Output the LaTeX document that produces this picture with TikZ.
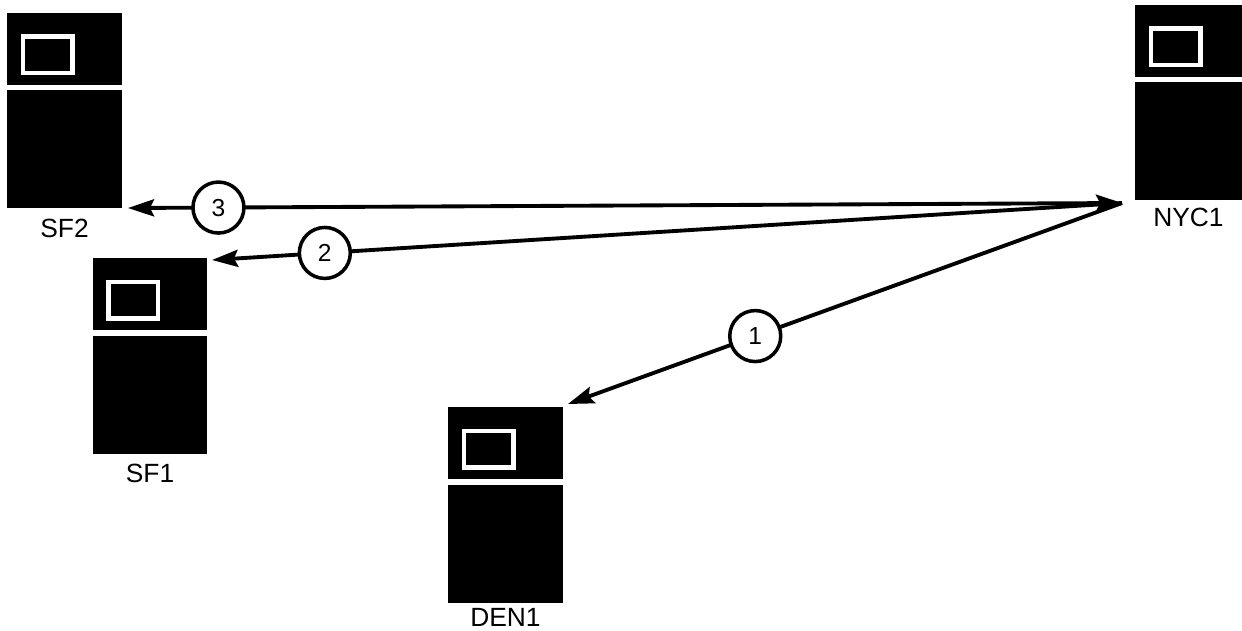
\documentclass[tikz,border=0pt]{standalone}
\usepackage{fontspec}
\setmainfont{Liberation Sans}
\usetikzlibrary{positioning,arrows.meta}

\begin{document}
\begin{tikzpicture}[x=0.02cm,y=-0.02cm,
    toppart/.style={fill=black,inner sep=0,minimum width=2.3cm,minimum height=1.44cm},
    botpart/.style={fill=black,inner sep=0,minimum width=2.3cm,minimum height=2.36cm},
    screen/.style={draw=white,line width=0.09cm,inner sep=0,minimum width=0.99cm,minimum height=0.73cm},
    sitename/.style={inner sep=0,font=\fontsize{15}{17}\selectfont},
    tip/.tip={Stealth[length=0.52cm,width=0.34cm,inset=0.08cm]},
    link/.style={line width=2.2pt,-tip},
    hop/.style={circle,draw,fill=white,line width=2pt,minimum size=1.02cm,inner sep=0,font=\fontsize{14}{16}\selectfont}]
                \useasboundingbox (0,0) rectangle (1242,630);
                % SF2
                \node[toppart] (sf2top) at (64.5,48.5) {};
                \node[screen,right=0.285cm of sf2top.west,yshift=-0.12cm] (sf2scr) {};
                \node[botpart,below=0.1cm of sf2top] (sf2bot) {};
                \node[sitename,below=0.2cm of sf2bot] (sf2) {SF2};
                % SF1
                \node[toppart] (sf1top) at (150,294) {};
                \node[screen,right=0.285cm of sf1top.west,yshift=-0.12cm] (sf1scr) {};
                \node[botpart,below=0.1cm of sf1top] (sf1bot) {};
                \node[sitename,below=0.2cm of sf1bot] (sf1) {SF1};
                % DEN1
                \node[toppart] (dentop) at (505.5,443) {};
                \node[screen,right=0.285cm of dentop.west,yshift=-0.12cm] (denscr) {};
                \node[botpart,below=0.1cm of dentop] (denbot) {};
                \node[sitename,below=0.1cm of denbot] (den) {DEN1};
                % NYC1
                \node[toppart] (nyctop) at (1192.5,40.5) {};
                \node[screen,right=0.285cm of nyctop.west,yshift=-0.12cm] (nycscr) {};
                \node[botpart,below=0.1cm of nyctop] (nycbot) {};
                \node[sitename,below=0.14cm of nycbot,xshift=-0.08cm] (nyc) {NYC1};
                % arrow ends
                \coordinate (nycin) at (1122,203);
                \coordinate (sf2in) at (128,208);
                \coordinate (sf1in) at (212,260);
                \coordinate (denin) at (568,404);
                % links
                \draw[link,tip-tip] (nycin) -- node[hop,pos=0.909] (h3) {3} (sf2in);
                \draw[link] (nycin) -- node[hop,pos=0.876] (h2) {2} (sf1in);
                \draw[link] (nycin) -- node[hop,pos=0.662] (h1) {1} (denin);
            \end{tikzpicture}
\end{document}
